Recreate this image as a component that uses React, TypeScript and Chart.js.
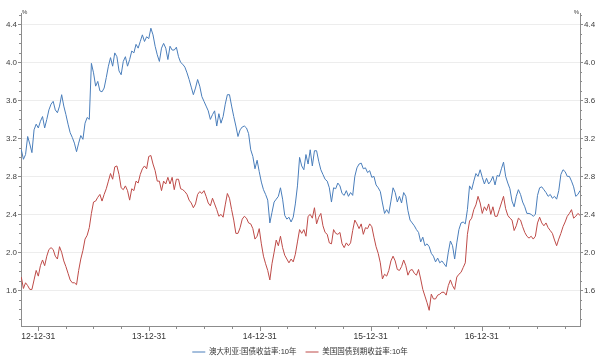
import React, { useEffect, useRef } from 'react';
import { Chart, registerables } from 'chart.js';

Chart.register(...registerables);

// ---- data ----
const seriesNames = ['澳大利亚:国债收益率:10年', '美国国债到期收益率:10年'];
// weekly observations, first one on 2012-11-05 (day -56 counted from 2012-12-31)
const firstDay = -56;
const stepDays = 7;

const ausYield10y = [
  3.08, 2.98, 3.03, 3.22, 3.14, 3.05, 3.29, 3.35, 3.31, 3.38,
  3.43, 3.31, 3.40, 3.50, 3.56, 3.59, 3.50, 3.47, 3.54, 3.66,
  3.54, 3.45, 3.35, 3.26, 3.21, 3.15, 3.06, 3.15, 3.23, 3.19,
  3.36, 3.42, 3.40, 3.99, 3.89, 3.75, 3.80, 3.70, 3.69, 3.73,
  3.84, 3.96, 4.05, 3.96, 4.10, 4.06, 3.91, 3.87, 4.01, 4.06,
  3.96, 4.03, 4.12,
  4.10, 4.19, 4.15, 4.22, 4.29, 4.22, 4.27, 4.25, 4.36, 4.29,
  4.17, 4.08, 4.01, 4.15, 4.20, 4.15, 4.03, 4.17, 4.13, 4.13,
  4.16, 4.06, 4.00, 3.98, 3.95, 3.89, 3.82, 3.74, 3.66, 3.73,
  3.82, 3.75, 3.64, 3.59, 3.54, 3.49, 3.40, 3.45, 3.49, 3.33,
  3.46, 3.36, 3.43, 3.56, 3.66, 3.66, 3.54, 3.43, 3.33, 3.22,
  3.29, 3.32, 3.33,
  3.31, 3.25, 3.08, 3.01, 2.88, 2.97, 2.85, 2.74, 2.66, 2.61,
  2.55, 2.31, 2.42, 2.53, 2.56, 2.59, 2.68, 2.56, 2.39, 2.35,
  2.37, 2.32, 2.37, 2.51, 2.70, 3.00, 2.91, 2.87, 3.03, 2.93,
  3.08, 2.91, 3.07, 3.07, 2.96, 2.87, 2.82, 2.77, 2.75, 2.68,
  2.53, 2.68, 2.67, 2.73, 2.70, 2.62, 2.60, 2.65, 2.59, 2.63,
  2.60, 2.80, 2.89,
  2.93, 2.94, 2.88, 2.89, 2.84, 2.86, 2.79, 2.80, 2.71, 2.68,
  2.64, 2.52, 2.41, 2.45, 2.41, 2.54, 2.68, 2.63, 2.53, 2.59,
  2.52, 2.63, 2.59, 2.44, 2.34, 2.31, 2.28, 2.24, 2.21, 2.11,
  2.16, 2.07, 2.09, 2.06, 1.99, 1.96, 1.90, 1.94, 1.89, 1.91,
  1.88, 1.85, 2.00, 2.12, 2.07, 1.93, 2.10, 2.24, 2.31, 2.32,
  2.30, 2.45, 2.70,
  2.66, 2.75, 2.83, 2.80, 2.87, 2.79, 2.72, 2.78, 2.72, 2.75,
  2.80, 2.71, 2.81, 2.80, 2.88, 2.95, 2.80, 2.73, 2.67, 2.54,
  2.48, 2.59, 2.66, 2.61, 2.53, 2.48, 2.41, 2.41, 2.40, 2.38,
  2.40, 2.60, 2.68, 2.69, 2.66, 2.63, 2.59, 2.61, 2.57, 2.59,
  2.56, 2.65, 2.82, 2.87, 2.85, 2.80, 2.80, 2.75, 2.69, 2.59,
  2.61, 2.65,
];

const usYield10y = [
  1.74, 1.62, 1.68, 1.65, 1.61, 1.61, 1.71, 1.81, 1.75, 1.86,
  1.92, 1.86, 1.96, 2.03, 2.05, 2.03, 1.96, 1.93, 2.06, 2.00,
  1.91, 1.85, 1.78, 1.71, 1.68, 1.68, 1.66, 1.81, 1.93, 2.02,
  2.14, 2.18, 2.26, 2.41, 2.53, 2.54, 2.58, 2.61, 2.54, 2.61,
  2.67, 2.75, 2.83, 2.77, 2.90, 2.91, 2.82, 2.68, 2.66, 2.70,
  2.65, 2.55, 2.67,
  2.65, 2.75, 2.73, 2.82, 2.88, 2.91, 2.88, 3.01, 3.02, 2.93,
  2.86, 2.75, 2.75, 2.65, 2.75, 2.72, 2.79, 2.72, 2.79, 2.66,
  2.77, 2.77, 2.67, 2.66, 2.64, 2.61, 2.55, 2.52, 2.47, 2.51,
  2.61, 2.64, 2.62, 2.65, 2.59, 2.52, 2.49, 2.57, 2.51, 2.45,
  2.38, 2.40, 2.37, 2.50, 2.62, 2.57, 2.45, 2.34, 2.20, 2.20,
  2.26, 2.35, 2.38,
  2.36, 2.31, 2.30, 2.25, 2.14, 2.17, 2.25, 2.09, 1.96, 1.88,
  1.81, 1.71, 1.88, 2.00, 2.13, 2.07, 2.17, 2.05, 1.97, 1.93,
  1.89, 1.93, 1.90, 1.98, 2.11, 2.24, 2.20, 2.24, 2.17, 2.38,
  2.40, 2.36, 2.47, 2.30, 2.37, 2.41, 2.28, 2.21, 2.19, 2.10,
  2.09, 2.24, 2.20, 2.19, 2.21, 2.09, 2.05, 2.10, 2.07, 2.10,
  2.23, 2.34, 2.30,
  2.25, 2.30, 2.19, 2.26, 2.25, 2.30, 2.27, 2.16, 2.06, 1.99,
  1.89, 1.72, 1.77, 1.75, 1.81, 1.91, 1.96, 1.91, 1.82, 1.81,
  1.85, 1.92, 1.86, 1.76, 1.81, 1.82, 1.78, 1.76, 1.82, 1.72,
  1.61, 1.54, 1.47, 1.39, 1.56, 1.51, 1.51, 1.55, 1.56, 1.58,
  1.58, 1.55, 1.65, 1.71, 1.65, 1.61, 1.74, 1.77, 1.79, 1.84,
  1.89, 2.19, 2.33,
  2.36, 2.45, 2.50, 2.59, 2.52, 2.41, 2.48, 2.44, 2.51, 2.40,
  2.48, 2.38, 2.38, 2.45, 2.52, 2.59, 2.46, 2.39, 2.36, 2.34,
  2.23, 2.28, 2.36, 2.34, 2.27, 2.21, 2.17, 2.15, 2.17, 2.14,
  2.17, 2.31, 2.37, 2.31, 2.28, 2.31, 2.26, 2.23, 2.20, 2.13,
  2.07, 2.14, 2.20, 2.27, 2.32, 2.38, 2.41, 2.45, 2.36, 2.38,
  2.41, 2.39,
];

// x axis: days counted from 2012-12-31
const xTickDays = [0, 365, 730, 1095, 1461];
const xTickLabels = ['12-12-31', '13-12-31', '14-12-31', '15-12-31', '16-12-31'];
const xMinorDays = [90, 181, 273, 455, 546, 638, 820, 911, 1003, 1186, 1277, 1369, 1551, 1642, 1734];
const xMin = -57;
const xMax = 1785;

// y axis
const yMajorTicks = [1.6, 2.0, 2.4, 2.8, 3.2, 3.6, 4.0, 4.4];
const yMinorFrom = 1.3;
const yMinorTo = 4.5;
const yMin = 1.225;
const yMax = 4.52;
const unitLabel = '%';

const BLUE = '#4a7ebb';
const RED = '#be4b48';
const AXIS = '#8c8c8c';
const TEXT = '#404040';
const FONT = '"Liberation Sans", Arial, "Noto Sans CJK SC", sans-serif';

const yAllTicks: number[] = [];
for (let k = Math.round(yMinorFrom * 10); k <= Math.round(yMinorTo * 10); k++) yAllTicks.push(k / 10);
const isMajorY = (v: number) => yMajorTicks.some((m) => Math.abs(m - v) < 1e-6);

const decorPlugin = {
  id: 'decor',
  afterDraw(chart: any) {
    const { ctx, chartArea: a, scales } = chart;
    const ys = scales.y;
    const xs = scales.x;
    ctx.save();
    ctx.strokeStyle = AXIS;
    ctx.lineWidth = 1;
    ctx.beginPath();
    for (const v of yAllTicks) {
      const py = Math.round(ys.getPixelForValue(v)) + 0.5;
      const len = isMajorY(v) ? 3 : 2;
      ctx.moveTo(a.left - len, py);
      ctx.lineTo(a.left, py);
      ctx.moveTo(a.right, py);
      ctx.lineTo(a.right + len, py);
    }
    for (const d of xTickDays) {
      const px = Math.round(xs.getPixelForValue(d)) + 0.5;
      ctx.moveTo(px, a.bottom);
      ctx.lineTo(px, a.bottom + 5);
    }
    for (const d of xMinorDays) {
      const px = Math.round(xs.getPixelForValue(d)) + 0.5;
      ctx.moveTo(px, a.bottom);
      ctx.lineTo(px, a.bottom + 3);
    }
    ctx.stroke();
    ctx.fillStyle = TEXT;
    ctx.font = '6px ' + FONT;
    ctx.textBaseline = 'bottom';
    ctx.textAlign = 'left';
    ctx.fillText(unitLabel, a.left + 1, a.top + 2);
    ctx.textAlign = 'right';
    ctx.fillText(unitLabel, a.right - 1, a.top + 2);
    ctx.restore();
  },
};

export default function App() {
  const ref = useRef<HTMLCanvasElement | null>(null);

  useEffect(() => {
    if (!ref.current) return;
    const toPoints = (arr: number[]) => arr.map((v, i) => ({ x: firstDay + i * stepDays, y: v }));
    const yTickCfg = {
      autoSkip: false,
      color: TEXT,
      font: { family: FONT, size: 8 },
      padding: 4,
      callback: (v: any) => (isMajorY(Number(v)) ? Number(v).toFixed(1) : ''),
    };
    const setYTicks = (scale: any) => {
      scale.ticks = yAllTicks.map((v) => ({ value: v }));
    };
    const chart = new Chart(ref.current, {
      type: 'line',
      data: {
        datasets: [
          {
            label: seriesNames[0],
            data: toPoints(ausYield10y),
            borderColor: BLUE,
            backgroundColor: BLUE,
            borderWidth: 1,
            pointRadius: 0,
            fill: false,
            yAxisID: 'y',
          },
          {
            label: seriesNames[1],
            data: toPoints(usYield10y),
            borderColor: RED,
            backgroundColor: RED,
            borderWidth: 1,
            pointRadius: 0,
            fill: false,
            yAxisID: 'y',
          },
        ],
      },
      options: {
        animation: false,
        responsive: false,
        devicePixelRatio: 1,
        layout: { padding: { top: 13, left: 0, right: 0, bottom: 0 } },
        plugins: {
          tooltip: { enabled: false },
          legend: {
            position: 'bottom',
            maxHeight: 20.75,
            labels: {
              usePointStyle: true,
              pointStyle: 'line',
              pointStyleWidth: 13,
              padding: 9,
              color: '#333',
              font: { family: FONT, size: 7.5 },
            },
          },
        },
        scales: {
          x: {
            type: 'linear',
            min: xMin,
            max: xMax,
            afterBuildTicks: (scale: any) => {
              scale.ticks = xTickDays.map((v) => ({ value: v }));
            },
            afterFit: (scale: any) => {
              scale.height = 13.25;
            },
            grid: { display: false, drawTicks: false },
            border: { display: true, color: AXIS, width: 1 },
            ticks: {
              autoSkip: false,
              maxRotation: 0,
              padding: 6,
              color: '#333',
              font: { family: FONT, size: 8.5 },
              callback: (v: any) => {
                const i = xTickDays.indexOf(Number(v));
                return i >= 0 ? xTickLabels[i] : '';
              },
            },
          },
          y: {
            type: 'linear',
            position: 'left',
            min: yMin,
            max: yMax,
            afterBuildTicks: setYTicks,
            afterFit: (scale: any) => {
              scale.width = 21;
            },
            grid: {
              drawTicks: false,
              color: (c: any) => (c.tick && isMajorY(c.tick.value) ? '#ededed' : 'rgba(0,0,0,0)'),
            },
            border: { display: true, color: AXIS, width: 1 },
            ticks: yTickCfg,
          },
          y2: {
            type: 'linear',
            position: 'right',
            display: true,
            min: yMin,
            max: yMax,
            afterBuildTicks: setYTicks,
            afterFit: (scale: any) => {
              scale.width = 20;
            },
            grid: { display: false, drawTicks: false },
            border: { display: true, color: AXIS, width: 1 },
            ticks: yTickCfg,
          },
        },
      } as any,
      plugins: [decorPlugin],
    });
    return () => chart.destroy();
  }, []);

  return (
    <div style={{ position: 'absolute', left: 0, top: 0, width: 600, height: 360, background: '#fff' }}>
      <canvas ref={ref} width={600} height={360} style={{ display: 'block' }} />
    </div>
  );
}
